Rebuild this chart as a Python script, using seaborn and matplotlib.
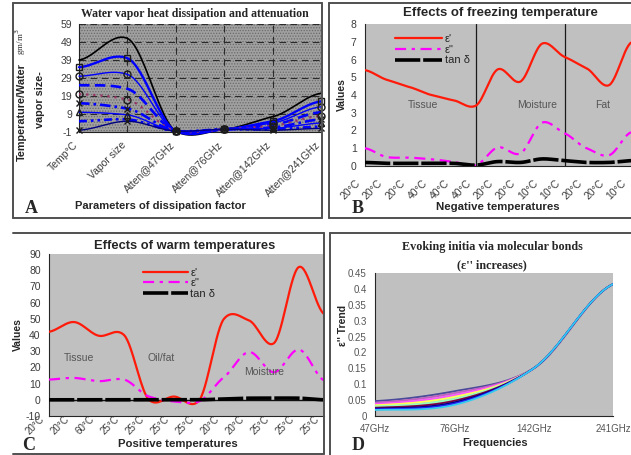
import numpy as np
import matplotlib
matplotlib.use("Agg")
import matplotlib.pyplot as plt
import seaborn as sns
from matplotlib.patches import Rectangle
from matplotlib.lines import Line2D
from matplotlib.transforms import ScaledTranslation

sns.set_style("white")
plt.rcParams["font.family"] = ["Liberation Sans", "DejaVu Sans"]
plt.rcParams["hatch.linewidth"] = 0.6

# ---------------- data ----------------
a_categories = ["Temp°C", "Vapor size", "Atten@47GHz", "Atten@76GHz", "Atten@142GHz", "Atten@241GHz"]
a_black = [39, 51, -0.5, 0.5, 7.5, 20.5]
a_blue_sq = [35, 40, -0.5, 0.5, 5, 16]
a_blue_o = [30, 31, -0.5, 0.5, 4, 13]
a_blue_dash = [25, 23, -0.5, 0.5, 3, 10]
a_plum_dot = [20, 17, -0.5, 0.5, 2.5, 8]
a_blue_dashdot = [15, 12, -0.5, 0.5, 1.5, 6]
a_blue_tri = [10, 8.5, -0.5, 0.5, 1, 4]
a_blue_dash2 = [5, 6, -0.5, 0.5, 0.5, 2]
a_navy = [0, 5, -0.5, 0.5, 0, 1]
a_yticks = [-1, 9, 19, 29, 39, 49, 59]

b_labels = ["20°C", "20°C", "20°C", "40°C", "40°C", "40°C", "20°C", "20°C", "10°C", "10°C", "20°C", "20°C", "10°C"]
b_eps1 = [5.4, 4.85, 4.45, 4.0, 3.7, 3.4, 5.45, 4.75, 6.9, 6.15, 5.5, 4.55, 6.95]
b_eps2 = [1.0, 0.5, 0.47, 0.38, 0.23, 0.04, 1.05, 0.7, 2.45, 1.85, 1.0, 0.6, 1.9]
b_tan = [0.2, 0.15, 0.15, 0.15, 0.15, 0.05, 0.25, 0.2, 0.4, 0.3, 0.2, 0.2, 0.3]
b_sections = [5, 9]
b_section_names = ["Tissue", "Moisture", "Fat"]

c_labels = ["20°C", "20°C", "60°C", "25°C", "25°C", "25°C", "25°C", "20°C", "20°C", "25°C", "25°C", "25°C"]
c_eps1 = [42, 48, 39.5, 40, 0, 2, -0.5, 50, 49, 35, 82, 53]
c_eps2 = [12.5, 13.5, 11.5, 12.5, 2, -1, -1, 14, 29.5, 17, 31, 12]
c_tan = [0, 0, 0, 0, 0, 0, 0, 0.5, 1, 1, 1, 0]
c_section_names = ["Tissue", "Oil/fat", "Moisture"]

d_freqs = ["47GHz", "76GHz", "142GHz", "241GHz"]
d_s1 = [0.047, 0.078, 0.15, 0.415]
d_s2 = [0.042, 0.072, 0.15, 0.415]
d_s3 = [0.038, 0.066, 0.15, 0.415]
d_s4 = [0.034, 0.060, 0.15, 0.415]
d_s5 = [0.030, 0.054, 0.15, 0.415]
d_s6 = [0.026, 0.048, 0.15, 0.415]
d_s7 = [0.023, 0.043, 0.15, 0.415]
d_s8 = [0.021, 0.039, 0.15, 0.415]
d_s9 = [0.019, 0.035, 0.15, 0.415]

# ---------------- helpers ----------------
W, H = 631, 455
fig = plt.figure(figsize=(W / 100, H / 100), dpi=100)
fig.patch.set_facecolor("white")


def axes_px(l, t, r, b):
    return fig.add_axes([l / W, 1 - b / H, (r - l) / W, (b - t) / H])


def smooth(vals, k=0.75, n=30):
    y = np.asarray(vals, float)
    m = len(y)
    yp = np.concatenate([[y[0]], y, [y[-1]]])
    tang = k * (yp[2:] - yp[:-2]) / 2
    t = np.linspace(0, 1, n, endpoint=False)
    h00 = 2 * t**3 - 3 * t**2 + 1
    h10 = t**3 - 2 * t**2 + t
    h01 = -2 * t**3 + 3 * t**2
    h11 = t**3 - t**2
    xs, ys = [], []
    for i in range(m - 1):
        xs.append(i + t)
        ys.append(h00 * y[i] + h10 * tang[i] + h01 * y[i + 1] + h11 * tang[i + 1])
    xs.append([m - 1])
    ys.append([y[-1]])
    return np.concatenate(xs), np.concatenate(ys)


def sline(ax, vals, color, lw, dashes=None, label=None, k=0.75, zorder=3):
    xs, ys = smooth(vals, k=k)
    sns.lineplot(x=xs, y=ys, ax=ax, color=color, linewidth=lw, estimator=None,
                 sort=False, label=label, legend=False, zorder=zorder)
    ln = ax.lines[-1]
    if dashes is not None:
        ln.set_dashes(dashes)
    return ln


def shift_xlabels(ax, dx_px):
    off = ScaledTranslation(dx_px / 100, 0, fig.dpi_scale_trans)
    for lbl in ax.get_xticklabels():
        lbl.set_transform(lbl.get_transform() + off)


def box(l, t, r, b, sides=("l", "t", "r", "b")):
    pts = {"l": ([l, l], [t, b]), "r": ([r, r], [t, b]), "t": ([l, r], [t, t]), "b": ([l, r], [b, b])}
    for s in sides:
        xx, yy = pts[s]
        fig.add_artist(Line2D([x / W for x in xx], [1 - y / H for y in yy],
                              color="#505050", lw=1.4, transform=fig.transFigure))


tick_col = "#3c3c3c"

# ---------------- Panel A ----------------
box(13, 3, 322, 218)
axA = axes_px(79, 24, 321, 132)
axA.set_facecolor("#a0a0a0")
axA.add_patch(Rectangle((0, 0), 1, 1, transform=axA.transAxes, facecolor="#a0a0a0",
                        edgecolor="#6a6a6a", hatch="......", lw=0, zorder=0))
axA.set_xlim(0, 5)
axA.set_ylim(-1, 59)
axA.set_yticks(a_yticks)
axA.set_yticklabels([str(v) for v in a_yticks], fontsize=7.5, color=tick_col)
axA.set_xticks(range(len(a_categories)))
axA.set_xticklabels(a_categories, rotation=45, ha="right", va="center",
                    rotation_mode="anchor", fontsize=7.5, color=tick_col)
axA.tick_params(axis="x", length=0, pad=8)
axA.tick_params(axis="y", length=3, pad=2, color="#333")
shift_xlabels(axA, -3)
for v in a_yticks[1:]:
    axA.axhline(v, color="#2a2a2a", lw=0.8, dashes=(6, 4), zorder=1)
for i in range(1, len(a_categories)):
    axA.axvline(i, color="#2a2a2a", lw=0.8, dashes=(6, 4), zorder=1)
for s in ["top", "right"]:
    axA.spines[s].set_visible(False)
axA.spines["left"].set_color("#222")
axA.spines["bottom"].set_color("#222")

a_specs = [
    (a_black, "#000000", 1.2, None, None),
    (a_blue_sq, "#0000ff", 1.7, None, "s"),
    (a_blue_o, "#0000ff", 1.0, None, "o"),
    (a_blue_dash, "#0000ff", 1.9, (4, 2), None),
    (a_plum_dot, "#993366", 1.6, (1.0, 2.2), "o"),
    (a_blue_dashdot, "#0000ff", 1.9, (4, 1.5, 1, 1.5), "x"),
    (a_blue_tri, "#0000ff", 1.0, None, "^"),
    (a_blue_dash2, "#0000ff", 1.9, (3, 1.5, 1, 1.5, 1, 1.5), None),
    (a_navy, "#000080", 1.0, None, "x"),
]
for vals, col, lw, dsh, mk in a_specs:
    ln = sline(axA, vals, col, lw, dashes=dsh, k=0.6)
    ln.set_clip_on(False)
    if mk is not None:
        axA.plot(range(len(vals)), vals, linestyle="none", marker=mk, ms=5,
                 mfc="none", mec="#1a1a1a", mew=1.0, zorder=4, clip_on=False)

fig.text(195 / W, 1 - 14 / H, "Water vapor heat dissipation and attenuation",
         family="Liberation Serif", weight="bold", fontsize=8.5, ha="center", va="center")
fig.text(22 / W, 1 - 112 / H, "Temperature/Water", rotation=90, weight="bold",
         fontsize=7.8, ha="center", va="center")
fig.text(21 / W, 1 - 42 / H, "gm/m$^3$", rotation=90, family="Liberation Serif",
         fontsize=6.5, ha="center", va="center", color="#333")
fig.text(40 / W, 1 - 100 / H, "vapor size-", rotation=90, weight="bold",
         fontsize=7.8, ha="center", va="center")
fig.text(160 / W, 1 - 206 / H, "Parameters of dissipation factor", weight="bold",
         fontsize=8, ha="center", va="center")
fig.text(31 / W, 1 - 209 / H, "A", family="Liberation Serif", weight="bold",
         fontsize=13, ha="center", va="center")

# ---------------- Panel B ----------------
box(329, 3, 640, 218)
axB = axes_px(365, 24, 631, 166)
axB.set_facecolor("#c0c0c0")
axB.set_xlim(0, 12)
axB.set_ylim(0, 8)
axB.set_yticks(range(0, 9))
axB.set_yticklabels([str(v) for v in range(0, 9)], fontsize=7.5, color=tick_col)
axB.set_xticks(range(len(b_labels)))
axB.set_xticklabels(b_labels, rotation=45, ha="right", va="center",
                    rotation_mode="anchor", fontsize=7.5, color=tick_col)
axB.tick_params(axis="both", length=3, pad=3, color="#333", direction="out")
axB.tick_params(axis="x", pad=8)
shift_xlabels(axB, -6)
for s in ["top", "right"]:
    axB.spines[s].set_visible(False)
for v in b_sections:
    axB.axvline(v, color="#1a1a1a", lw=0.9, zorder=2)
sline(axB, b_eps1, "#ff1a0a", 1.6, label="ε'")
sline(axB, b_eps2, "#ff00ff", 1.6, dashes=(5, 2.5, 1.5, 2.5), label='ε"')
sline(axB, b_tan, "#000000", 2.6, dashes=(7, 0.8), label="tan δ")
axB.legend(loc="upper left", bbox_to_anchor=(0.08, 0.99), frameon=False, fontsize=8,
           handlelength=4.2, handletextpad=0.25, labelspacing=0.05, borderpad=0.3)
for name, xpos in zip(b_section_names, [2.6, 7.75, 10.7]):
    axB.text(xpos, 3.43, name, fontsize=7.5, color="#555555", ha="center", va="center")
fig.text(500 / W, 1 - 13 / H, "Effects of freezing temperature", weight="bold",
         fontsize=9.5, ha="center", va="center")
fig.text(342 / W, 1 - 95 / H, "Values", rotation=90, weight="bold",
         fontsize=7.5, ha="center", va="center")
fig.text(498 / W, 1 - 207 / H, "Negative temperatures", weight="bold",
         fontsize=8.2, ha="center", va="center")
fig.text(358 / W, 1 - 209 / H, "B", family="Liberation Serif", weight="bold",
         fontsize=13, ha="center", va="center")

# ---------------- Panel C ----------------
box(13, 233, 324, 454, sides=("t", "r", "b"))
axC = axes_px(49, 254, 324, 416)
axC.set_facecolor("#c0c0c0")
axC.set_xlim(0, 11)
axC.set_ylim(-10, 90)
c_yt = list(range(-10, 91, 10))
axC.set_yticks(c_yt)
axC.set_yticklabels([str(v) for v in c_yt], fontsize=7.5, color=tick_col)
axC.set_xticks(range(len(c_labels)))
axC.set_xticklabels(c_labels, rotation=45, ha="right", va="center",
                    rotation_mode="anchor", fontsize=7, color=tick_col)
axC.tick_params(axis="y", length=3, pad=3, color="#333", direction="out")
axC.tick_params(axis="x", length=0, pad=1)
shift_xlabels(axC, -6)
for s in ["top", "right"]:
    axC.spines[s].set_visible(False)
axC.axhline(0, color="#111", lw=1.0, zorder=2)
sline(axC, c_eps1, "#ff1a0a", 1.6, label="ε'")
sline(axC, c_eps2, "#ff00ff", 1.6, dashes=(5, 2.5, 1.5, 2.5), label='ε"')
sline(axC, c_tan, "#000000", 2.6, dashes=(7, 0.8), label="tan δ")
axC.legend(loc="upper left", bbox_to_anchor=(0.31, 0.97), frameon=False, fontsize=8,
           handlelength=4.0, handletextpad=0.25, labelspacing=0.05, borderpad=0.3)
for name, xpos, ypos in zip(c_section_names, [1.2, 4.5, 8.6], [26, 26, 17]):
    axC.text(xpos, ypos, name, fontsize=7.5, color="#555555", ha="center", va="center")
fig.text(185 / W, 1 - 246 / H, "Effects of warm temperatures", weight="bold",
         fontsize=9.3, ha="center", va="center")
fig.text(18 / W, 1 - 335 / H, "Values", rotation=90, weight="bold",
         fontsize=7.5, ha="center", va="center")
fig.text(178 / W, 1 - 444 / H, "Positive temperatures", weight="bold",
         fontsize=8.2, ha="center", va="center")
fig.text(29 / W, 1 - 445 / H, "C", family="Liberation Serif", weight="bold",
         fontsize=13, ha="center", va="center")

# ---------------- Panel D ----------------
box(330, 233, 640, 460)
axD = axes_px(375, 273, 613, 416)
axD.set_facecolor("#c0c0c0")
axD.set_xlim(0, 3)
axD.set_ylim(0, 0.45)
d_yt = [0, 0.05, 0.1, 0.15, 0.2, 0.25, 0.3, 0.35, 0.4, 0.45]
axD.set_yticks(d_yt)
axD.set_yticklabels([f"{v:g}" for v in d_yt], fontsize=7, color="#555555")
axD.set_xticks(range(len(d_freqs)))
axD.set_xticklabels(d_freqs, fontsize=7, color="#555555")
axD.tick_params(axis="both", length=3, pad=3, color="#333", direction="out")
for s in ["top", "right"]:
    axD.spines[s].set_visible(False)
d_series = [d_s1, d_s2, d_s3, d_s4, d_s5, d_s6, d_s7, d_s8, d_s9]
d_colors = ["#4a4a9a", "#c060c0", "#ff55ff", "#ffff55", "#99ffbb",
            "#800040", "#000080", "#2020ff", "#33ccee"]
for vals, col in zip(d_series, d_colors):
    sline(axD, vals, col, 1.3, k=0.9)
fig.text(492 / W, 1 - 247 / H, "Evoking initia via molecular bonds",
         family="Liberation Serif", weight="bold", fontsize=8.7, ha="center", va="center")
fig.text(492 / W, 1 - 265 / H, "(ε'' increases)",
         family="Liberation Serif", weight="bold", fontsize=8.7, ha="center", va="center")
fig.text(343 / W, 1 - 325 / H, "ε'' Trend", rotation=90, weight="bold",
         fontsize=7.5, ha="center", va="center")
fig.text(495 / W, 1 - 443 / H, "Frequencies", weight="bold",
         fontsize=8, ha="center", va="center")
fig.text(358 / W, 1 - 445 / H, "D", family="Liberation Serif", weight="bold",
         fontsize=13, ha="center", va="center")

fig.savefig("out.png", dpi=100, facecolor="white")
